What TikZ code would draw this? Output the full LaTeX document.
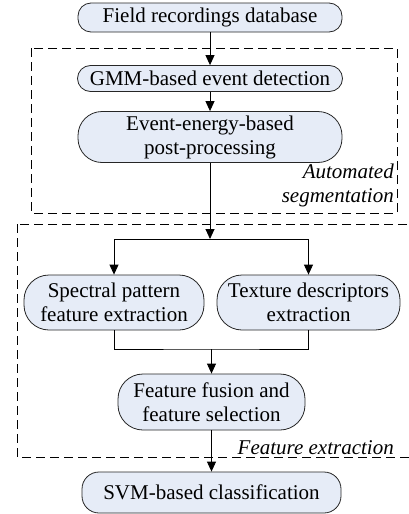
\documentclass[tikz,border=0pt]{standalone}
\usepackage{fontspec}
\setmainfont{Liberation Serif}
\usetikzlibrary{arrows.meta}
\definecolor{stagefill}{RGB}{230,236,247}
\tikzset{
  stage/.style={draw=black!85, line width=0.8pt, fill=stagefill, rounded corners=13pt,
    inner sep=0pt, align=center},
  flow/.style={line width=0.9pt, -{Triangle[length=10pt,width=9pt]}},
  link/.style={line width=0.9pt},
  group/.style={line width=1pt, dash pattern=on 9pt off 5pt},
  grouplabel/.style={font=\fontsize{21}{24}\selectfont\itshape, align=right, inner sep=0pt}
}
\begin{document}
\begin{tikzpicture}[x=1pt, y=-1pt, every node/.style={font=\fontsize{21}{24}\selectfont}]
    \useasboundingbox (0,0) rectangle (408,514);
    % segmentation and feature groups
    \draw[group] (31,48) rectangle (397,213);
    \draw[group] (17,224) rectangle (420,457);
    \node[grouplabel, anchor=south east] (seglabel) at (394,207) {Automated\\segmentation};
    \node[grouplabel, anchor=south east] (featlabel) at (394,455) {Feature extraction};
    % processing stages
    \node[stage, minimum width=264pt, minimum height=29pt] (db) at (210,17.5) {Field recordings database};
    \node[stage, minimum width=265pt, minimum height=26pt] (gmm) at (210,78.5) {GMM-based event detection};
    \node[stage, minimum width=264pt, minimum height=51pt, rounded corners=24pt] (post) at (210,137) {Event-energy-based\\post-processing};
    \node[stage, minimum width=180pt, minimum height=55pt, rounded corners=25pt] (spec) at (114,302.5) {Spectral pattern\\feature extraction};
    \node[stage, minimum width=183pt, minimum height=55pt, rounded corners=25pt] (tex) at (308.5,302.5) {Texture descriptors\\extraction};
    \node[stage, minimum width=187pt, minimum height=56pt, rounded corners=25pt] (fus) at (211.5,402) {Feature fusion and\\feature selection};
    \node[stage, minimum width=259pt, minimum height=41pt, rounded corners=17pt] (svm) at (211.5,492.5) {SVM-based classification};
    \coordinate (split) at (210,239);
    \coordinate (merge) at (211.5,349);
    % connectors
    \draw[flow] (db) -- (gmm);
    \draw[flow] (gmm) -- (post);
    \draw[flow] (post) -- (split);
    \draw[flow] (split) -| (spec.north);
    \draw[flow] (split) -| (tex.north);
    \draw[link] (spec.south) |- (merge) -| (tex.south);
    \draw[flow] (merge) -- (fus);
    \draw[flow] (fus) -- (svm);
\end{tikzpicture}
\end{document}
